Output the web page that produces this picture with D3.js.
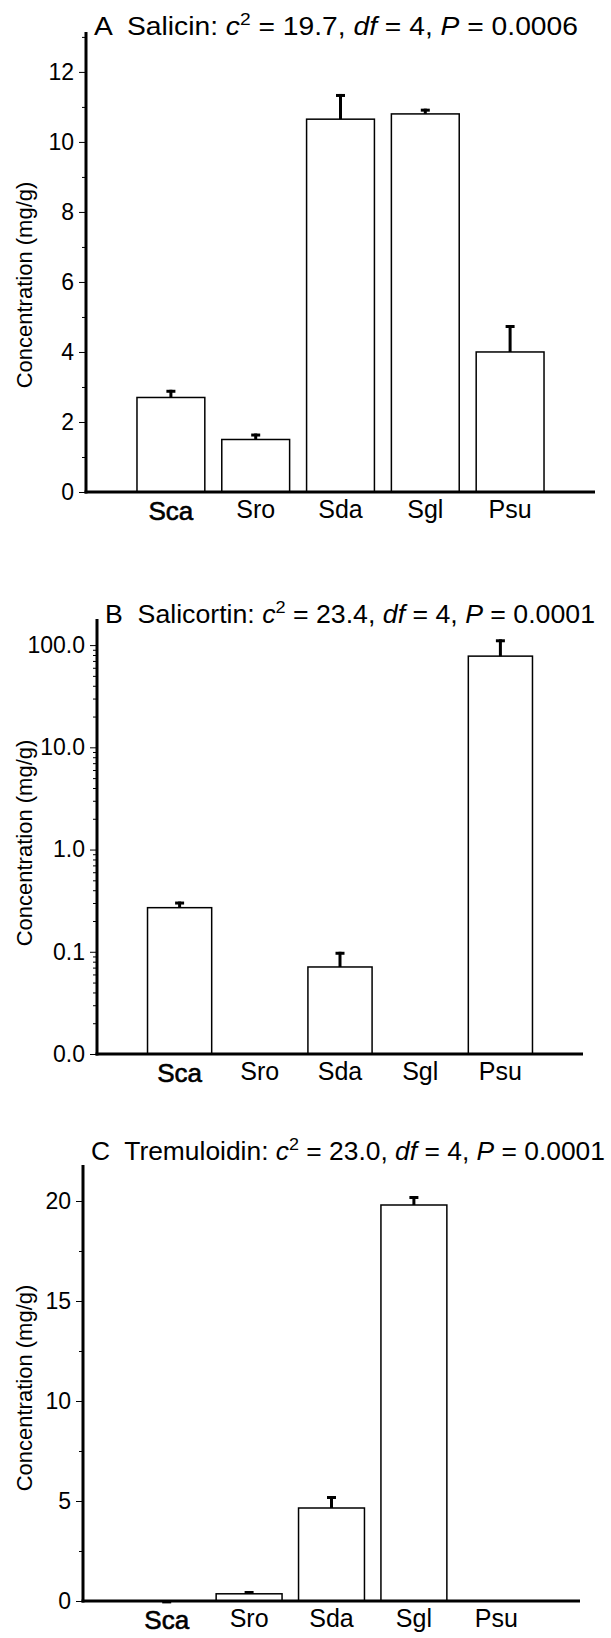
<!DOCTYPE html>
<html>
<head>
<meta charset="utf-8">
<script src="https://cdnjs.cloudflare.com/ajax/libs/d3/7.8.5/d3.min.js"></script>
<style>
body { margin:0; background:#fff; }
svg { display:block; font-family: Arial, "Liberation Sans", sans-serif; }
.tick text { fill:#000; }
.title { white-space: pre; }
</style>
</head>
<body>
<div id="chart"></div>
<script>
// data (mean and +1 SE)
var species = ['Sca','Sro','Sda','Sgl','Psu'];

var salicin_mean = [2.7, 1.5, 10.65, 10.8, 4.0];
var salicin_err = [0.22, 0.17, 0.72, 0.15, 0.77];
var salicin_ticks = [0, 2, 4, 6, 8, 10, 12];

var salicortin_mean = [0.27, 0, 0.071, 0, 78];
var salicortin_err = [0.04, 0, 0.029, 0, 36];
var salicortin_ticks = [0.01, 0.1, 1, 10, 100];

var tremuloidin_mean = [0.01, 0.36, 4.65, 19.8, 0];
var tremuloidin_err = [0.02, 0.14, 0.6, 0.45, 0];
var tremuloidin_ticks = [0, 5, 10, 15, 20];

// title pieces: [text, style]
var title_a = [['A  Salicin: ',''],['c','i'],['2','sup'],[' = 19.7, ',''],['df','i'],[' = 4, ',''],['P','i'],[' = 0.0006','']];
var title_b = [['B  Salicortin: ',''],['c','i'],['2','sup'],[' = 23.4, ',''],['df','i'],[' = 4, ',''],['P','i'],[' = 0.0001','']];
var title_c = [['C  Tremuloidin: ',''],['c','i'],['2','sup'],[' = 23.0, ',''],['df','i'],[' = 4, ',''],['P','i'],[' = 0.0001','']];

var y_label = 'Concentration (mg/g)';

var svg = d3.select('#chart').append('svg')
	.attr('width', 611)
	.attr('height', 1638)

var draw_panel = function(p){
	var g = svg.append('g')

	var y;
	if (p.log) {
		y = d3.scaleLog().domain(p.domain).range([p.y0, p.top])
	} else {
		y = d3.scaleLinear().domain(p.domain).range([p.y0, p.top])
	}

	var x = d3.scaleBand()
		.domain(species)
		.range([p.x0 + 42.5, p.x1 - 42.5])
		.paddingInner(0.2)
		.paddingOuter(0.1)

	// minor ticks
	var minor = [];
	if (p.log) {
		for (var e = -2; e <= 2; e++) {
			for (var m = 2; m <= 9; m++) {
				var v = m * Math.pow(10, e)
				if (v <= p.domain[1]) minor.push(v)
			}
		}
	} else {
		p.ticks.forEach(function(t){ minor.push(t + p.minor_step) })
		minor = minor.filter(function(v){ return v <= p.domain[1] })
	}

	g.append('g')
		.attr('transform', 'translate(' + p.x0 + ',0)')
		.call(d3.axisLeft(y).tickValues(minor).tickSize(4).tickFormat(''))
		.call(function(s){ s.select('.domain').remove() })
		.selectAll('line').attr('stroke', '#000').attr('stroke-width', 1)

	g.append('g')
		.attr('transform', 'translate(' + p.x0 + ',0)')
		.call(d3.axisLeft(y).tickValues(p.ticks).tickSize(7).tickPadding(5).tickFormat(p.fmt))
		.call(function(s){ s.select('.domain').remove() })
		.call(function(s){
			s.selectAll('text').attr('font-size', 23).attr('font-family', 'Arial, "Liberation Sans", sans-serif')
			s.selectAll('line').attr('stroke', '#000').attr('stroke-width', 1)
		})

	// bars
	var rows = species.map(function(s, i){
		return {name: s, mean: p.mean[i], err: p.err[i]}
	}).filter(function(d){ return d.mean > 0 })

	g.selectAll('rect.bar').data(rows).enter().append('rect')
		.attr('class', 'bar')
		.attr('x', function(d){ return x(d.name) })
		.attr('width', x.bandwidth())
		.attr('y', function(d){ return y(d.mean) })
		.attr('height', function(d){ return p.y0 - y(d.mean) })
		.attr('fill', '#fff')
		.attr('stroke', '#000')
		.attr('stroke-width', 1.5)

	var eb = g.selectAll('g.err').data(rows.filter(function(d){ return d.err > 0 })).enter().append('g')
	eb.append('line')
		.attr('x1', function(d){ return x(d.name) + x.bandwidth() / 2 })
		.attr('x2', function(d){ return x(d.name) + x.bandwidth() / 2 })
		.attr('y1', function(d){ return y(d.mean) })
		.attr('y2', function(d){ return y(d.mean + d.err) })
		.attr('stroke', '#000')
		.attr('stroke-width', 3)
	eb.append('line')
		.attr('x1', function(d){ return x(d.name) + x.bandwidth() / 2 - 4.5 })
		.attr('x2', function(d){ return x(d.name) + x.bandwidth() / 2 + 4.5 })
		.attr('y1', function(d){ return y(d.mean + d.err) + 1.5 })
		.attr('y2', function(d){ return y(d.mean + d.err) + 1.5 })
		.attr('stroke', '#000')
		.attr('stroke-width', 3)

	// axis lines
	g.append('line')
		.attr('x1', p.x0).attr('x2', p.x0)
		.attr('y1', p.top).attr('y2', p.y0 + 1.5)
		.attr('stroke', '#000').attr('stroke-width', 3)
	g.append('line')
		.attr('x1', p.x0 - 1.5).attr('x2', p.x1)
		.attr('y1', p.y0).attr('y2', p.y0)
		.attr('stroke', '#000').attr('stroke-width', 3)

	// category labels
	g.append('g')
		.attr('transform', 'translate(0,' + p.y0 + ')')
		.call(d3.axisBottom(x).tickSize(0).tickPadding(8))
		.call(function(s){ s.select('.domain').remove() })
		.call(function(s){
			s.selectAll('text')
				.attr('font-size', function(d){ return d == 'Sca' ? 26 : 25 })
				.attr('font-family', 'Arial, "Liberation Sans", sans-serif')
				.attr('stroke', function(d){ return d == 'Sca' ? '#000' : null })
				.attr('stroke-width', function(d){ return d == 'Sca' ? 0.6 : null })
				.attr('dy', function(d){ return d == 'Sca' ? '0.76em' : '0.71em' })
		})

	// y label
	g.append('text')
		.attr('transform', 'translate(32,' + p.label_y + ') rotate(-90)')
		.attr('text-anchor', 'middle')
		.attr('font-size', 22)
		.text(y_label)

	// title, stretched to the width it has in the figure
	var t = g.append('text')
		.attr('class', 'title')
		.attr('x', p.x0 + 8)
		.attr('y', p.title_y)
		.attr('font-size', 25)
		.attr('textLength', p.title_w)
		.attr('lengthAdjust', 'spacingAndGlyphs')
	var last = ''
	p.title.forEach(function(part){
		var ts = t.append('tspan').text(part[0])
		if (part[1] == 'i') ts.attr('font-style', 'italic')
		if (part[1] == 'sup') ts.attr('font-size', 17).attr('dy', -10)
		if (last == 'sup') ts.attr('dy', 10)
		last = part[1]
	})
};

draw_panel({
	x0: 86, x1: 595, top: 32, y0: 492,
	domain: [0, 13.14], ticks: salicin_ticks, minor_step: 1,
	fmt: d3.format('d'),
	mean: salicin_mean, err: salicin_err,
	title: title_a, title_y: 35, title_w: 484, label_y: 285
})

draw_panel({
	x0: 97, x1: 583, top: 619, y0: 1054, log: true,
	domain: [0.01, 180], ticks: salicortin_ticks,
	fmt: d3.format('.1f'),
	mean: salicortin_mean, err: salicortin_err,
	title: title_b, title_y: 623, title_w: 490, label_y: 843
})

draw_panel({
	x0: 83, x1: 580, top: 1165, y0: 1601,
	domain: [0, 21.8], ticks: tremuloidin_ticks, minor_step: 2.5,
	fmt: d3.format('d'),
	mean: tremuloidin_mean, err: tremuloidin_err,
	title: title_c, title_y: 1160, title_w: 514, label_y: 1388
})
</script>
</body>
</html>
